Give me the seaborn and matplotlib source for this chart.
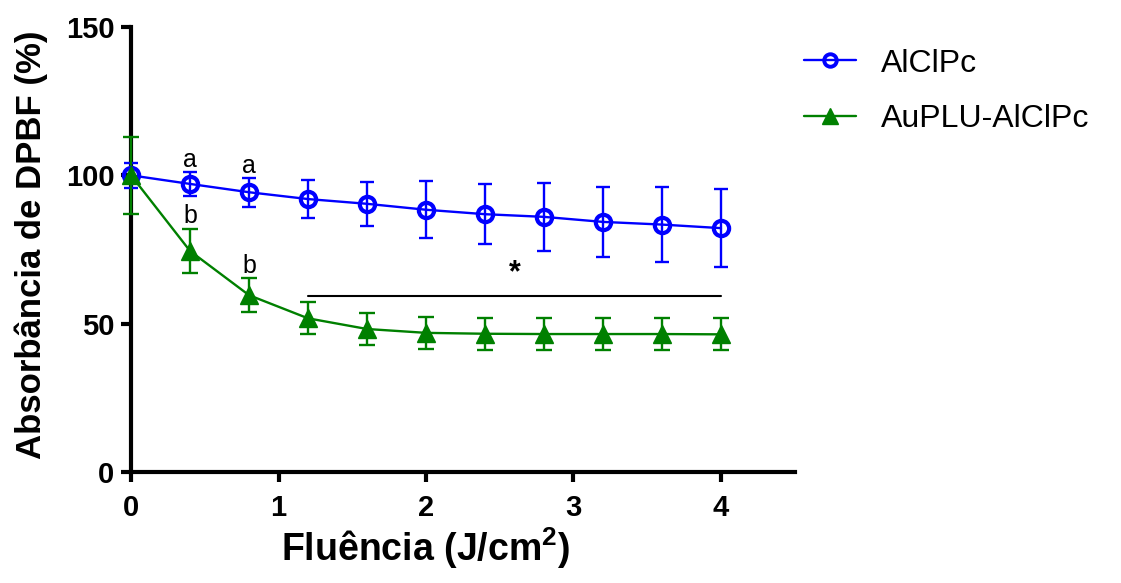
import numpy as np
import pandas as pd
import matplotlib
matplotlib.use("Agg")
import matplotlib.pyplot as plt
import seaborn as sns
from matplotlib.lines import Line2D

# dados
fluencia = [0, 0.4, 0.8, 1.2, 1.6, 2.0, 2.4, 2.8, 3.2, 3.6, 4.0]
alclpc = [100, 97.1, 94.3, 92.0, 90.4, 88.4, 86.9, 86.0, 84.3, 83.4, 82.2]
alclpc_sd = [4.3, 4.1, 4.9, 6.3, 7.5, 9.6, 10.2, 11.5, 11.8, 12.5, 13.1]
auplu = [100, 74.5, 59.6, 51.8, 48.2, 46.9, 46.6, 46.5, 46.5, 46.5, 46.4]
auplu_sd = [13.0, 7.3, 5.7, 5.4, 5.5, 5.5, 5.4, 5.4, 5.4, 5.4, 5.4]
series = ["AlClPc", "AuPLU-AlClPc"]

df = pd.DataFrame({
    "x": fluencia * 2,
    "y": alclpc + auplu,
    "sd": alclpc_sd + auplu_sd,
    "grupo": [series[0]] * len(fluencia) + [series[1]] * len(fluencia),
})

sns.set_style("ticks")
plt.rcParams["font.family"] = ["Liberation Sans", "DejaVu Sans"]
plt.rcParams["mathtext.fontset"] = "custom"
plt.rcParams["mathtext.rm"] = "Liberation Sans"
plt.rcParams["mathtext.bf"] = "Liberation Sans:bold"
plt.rcParams["text.color"] = "black"
plt.rcParams["axes.labelcolor"] = "black"
plt.rcParams["xtick.color"] = "black"
plt.rcParams["ytick.color"] = "black"
plt.rcParams["axes.edgecolor"] = "black"

cores = {"AlClPc": "#0000ff", "AuPLU-AlClPc": "#008000"}

fig = plt.figure(figsize=(11.21, 5.83), dpi=100)
ax = fig.add_axes([0.1169, 0.1904, 0.592, 0.7633])

# barras de erro
caps = {"AlClPc": 4.8, "AuPLU-AlClPc": 6.0}
for g in series:
    d = df[df.grupo == g]
    eb = ax.errorbar(d.x, d.y, yerr=d.sd, fmt="none", ecolor=cores[g],
                     elinewidth=1.7, capsize=caps[g], capthick=1.7, zorder=3)
    for art in eb.lines[1] + eb.lines[2]:
        art.set_clip_on(False)

sns.lineplot(data=df, x="x", y="y", hue="grupo", palette=cores, ax=ax,
             linewidth=1.7, legend=False, zorder=4)

d = df[df.grupo == series[0]]
ax.plot(d.x, d.y, "o", ms=11, mfc="none", mec=cores[series[0]], mew=3, zorder=5, clip_on=False)
d = df[df.grupo == series[1]]
ax.plot(d.x, d.y, "^", ms=12.5, mfc=cores[series[1]], mec=cores[series[1]], zorder=5, clip_on=False)

# anotações estatísticas
ax.text(0.4, 102.8, "a", ha="center", va="baseline", fontsize=18)
ax.text(0.8, 100.8, "a", ha="center", va="baseline", fontsize=18)
ax.text(0.4, 83.9, "b", ha="center", va="baseline", fontsize=18)
ax.text(0.8, 67.0, "b", ha="center", va="baseline", fontsize=18)
ax.plot([1.2, 4.0], [59.3, 59.3], color="black", lw=1.5)
ax.text(2.6, 67.0, "*", ha="center", va="center", fontsize=22, fontweight="bold")

ax.set_xlim(0, 4.5)
ax.set_ylim(0, 150)
ax.set_xticks([0, 1, 2, 3, 4])
ax.set_yticks([0, 50, 100, 150])
for s in ["top", "right"]:
    ax.spines[s].set_visible(False)
for s in ["left", "bottom"]:
    ax.spines[s].set_linewidth(3)
ax.tick_params(width=3, length=7, labelsize=21)
ax.tick_params(axis="x", pad=9)
ax.tick_params(axis="y", pad=5)
for lab in ax.get_xticklabels() + ax.get_yticklabels():
    lab.set_fontweight("bold")

ax.set_xlabel(r"Fluência (J/cm$^\mathbf{2}$)", fontsize=27, fontweight="bold")
ax.set_ylabel("Absorbância de DPBF (%)", fontsize=25, fontweight="bold")
ax.xaxis.set_label_coords(0.444, -0.12)
ax.yaxis.set_label_coords(-0.125, 0.51)

handles = [
    Line2D([], [], color=cores[series[0]], lw=1.7, marker="o", ms=9, mfc="none", mew=2.8),
    Line2D([], [], color=cores[series[1]], lw=1.7, marker="^", ms=12, mfc=cores[series[1]]),
]
fig.legend(handles, series, loc="upper left", bbox_to_anchor=(0.692, 0.966),
           frameon=False, fontsize=23, handlelength=1.6, labelspacing=0.8, handletextpad=0.8)

fig.savefig("out.png", dpi=100)
